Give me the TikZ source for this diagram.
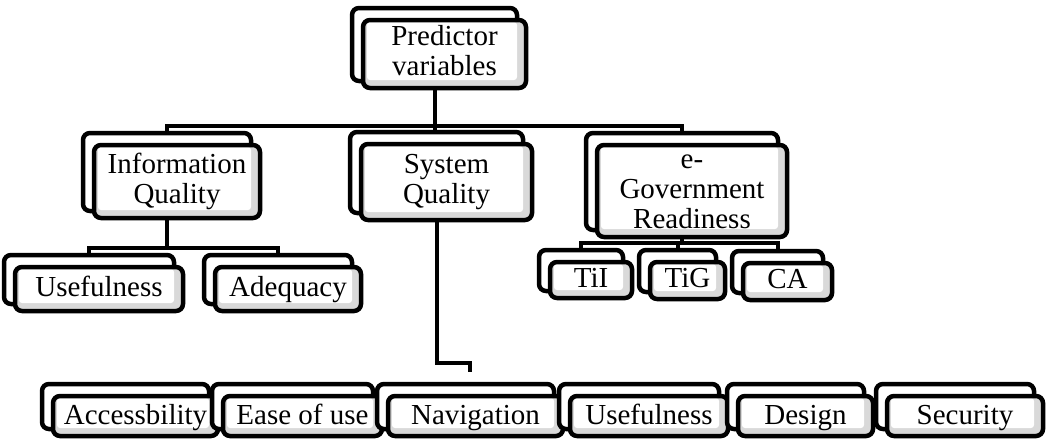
\documentclass[tikz,border=0pt]{standalone}
\usepackage{fontspec}
\setmainfont{Liberation Serif}
\usetikzlibrary{backgrounds}
\tikzset{
  backbox/.style={draw=black, line width=4.5pt, rounded corners=7pt, fill=white, inner sep=0pt},
  frontbox/.style={draw=black, line width=4.5pt, rounded corners=7pt, fill=white, inner sep=0pt,
    path picture={\fill[black!15] (path picture bounding box.south west) rectangle (path picture bounding box.north east);
      \fill[white, rounded corners=3pt] ([shift={(4pt,-2pt)}]path picture bounding box.north west) rectangle ([shift={(-9pt,8pt)}]path picture bounding box.south east);}},
  boxtext/.style={inner sep=0pt, align=center, font=\fontsize{29}{30}\selectfont,
    execute at begin node=\strut, execute at end node=\strut},
  conn/.style={draw=black, line width=4pt},
}
% [text shift], name, left, top, right, bottom (front box, image pixels), text
\newcommand\pbox[7][0]{%
  \node[backbox, minimum width={#5-#3+2}, minimum height={#6-#4+5}] (#2b) at ({(#3+#5)/2-10},{(#4+#6)/2-9.5}) {};
  \node[frontbox, minimum width={#5-#3}, minimum height={#6-#4}] (#2) at ({(#3+#5)/2},{(#4+#6)/2}) {};
  \node[boxtext] (#2t) at ([yshift=-#1pt-1pt]#2.center) {#7};
}
\begin{document}
\begin{tikzpicture}[x=1pt,y=-1pt]
\useasboundingbox (0,0) rectangle (1049,439);
% level 1
\pbox{root}{363}{20}{526}{88}{Predictor\\variables}
% level 2
\pbox{iq}{94}{145}{260}{218}{Information\\Quality}
\pbox{sq}{361}{144}{532}{220}{System\\Quality}
\pbox[4]{eg}{597}{145}{787}{237}{e-\\Government\\Readiness}
% level 3 under IQ
\pbox{usea}{15}{267}{183}{311}{Usefulness}
\pbox{adeq}{215}{267}{361}{311}{Adequacy}
% level 3 under eGov
\pbox{tii}{550}{262}{632}{298}{TiI}
\pbox{tig}{650}{262}{725}{299}{TiG}
\pbox{ca}{743}{263}{832}{300}{CA}
% bottom row
\pbox[1]{acc}{53}{396}{218}{436}{Accessbility}
\pbox[1]{ease}{223}{396}{382}{436}{Ease of use}
\pbox[1]{nav}{388}{396}{563}{436}{Navigation}
\pbox[1]{useb}{570}{396}{728}{436}{Usefulness}
\pbox[1]{des}{738}{396}{873}{436}{Design}
\pbox[1]{sec}{887}{396}{1043}{436}{Security}
% connectors
\begin{scope}[on background layer]
  \coordinate (bus1) at (0,126);
  \coordinate (bus2) at (0,248);
  \coordinate (bus3) at (0,243);
  \coordinate (sqelbow) at (470,363);
  \coordinate (sqend) at (470,372);
  \draw[conn] (rootb.south) -- (rootb.south |- bus1);
  \draw[conn] (iqb.north) |- (rootb.south |- bus1) -| (egb.north);
  \draw[conn] (rootb.south |- bus1) -- (rootb.south |- sqb.north);
  \draw[conn] (iqb.south) -- (iqb.south |- bus2);
  \draw[conn] (useab.north) |- (iqb.south |- bus2) -| (adeqb.north);
  \draw[conn] (egb.south) -- (egb.south |- bus3);
  \draw[conn] (tiib.north) |- (egb.south |- bus3) -| (cab.north);
  \draw[conn] (tigb.north) -- (tigb.north |- bus3);
  \draw[conn] (sqb.south) |- (sqelbow) -- (sqend);
\end{scope}
\end{tikzpicture}
\end{document}
